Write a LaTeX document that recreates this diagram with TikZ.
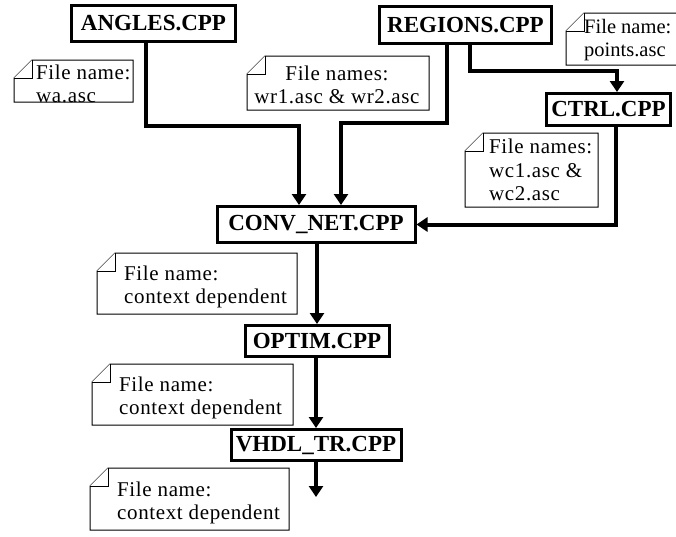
\documentclass[tikz,border=0pt]{standalone}
\usepackage{fontspec}
\setmainfont{Liberation Serif}
\newfontfamily\notefont[LetterSpace=3]{Liberation Serif}
\usetikzlibrary{arrows.meta}

% folded-corner note outline: \noteshape{x0}{y0}{x1}{y1}
\newcommand\noteshape[4]{%
  \draw[noteline] (#1,#2+18) -- (#1+18,#2) -- (#3,#2) -- (#3,#4) -- (#1,#4) -- cycle;
  \draw[noteline] (#1,#2+18) -- (#1+18,#2+18) -- (#1+18,#2);
}

\begin{document}
\begin{tikzpicture}[x=1pt,y=-1pt,
  module/.style={draw, line width=3pt, inner sep=0pt, fill=white,
    font=\fontsize{23}{26}\selectfont\bfseries},
  conn/.style={line width=4pt, -{Triangle[length=11pt,width=14pt]}},
  noteline/.style={line width=1pt, fill=white},
  notetext/.style={inner sep=0pt, align=left, font=\notefont\fontsize{21}{23.5}\selectfont},
  tightnote/.style={notetext, font=\rmfamily\fontsize{20.5}{22.5}\selectfont},
]
\useasboundingbox (0,0) rectangle (676,536);

% program modules
\node[module, minimum width=164pt, minimum height=36pt] (ang)   at (153.5,23.5) {ANGLES.CPP};
\node[module, minimum width=172pt, minimum height=37pt] (reg)   at (465.5,25)   {REGIONS.CPP};
\node[module, minimum width=124pt, minimum height=32pt] (ctrl)  at (608.5,109.5) {CTRL.CPP};
\node[module, minimum width=198pt, minimum height=36pt] (conv)  at (316,224.5)  {CONV\_NET.CPP};
\node[module, minimum width=144pt, minimum height=31pt] (optim) at (317,341)    {OPTIM.CPP};
\node[module, minimum width=170pt, minimum height=31pt] (vhdl)  at (316,445)    {VHDL\_TR.CPP};

% bend points of the connectors
\coordinate (ka) at (146,126);
\coordinate (kb) at (299,126);
\coordinate (kc) at (447,123);
\coordinate (kd) at (341,123);
\coordinate (ke) at (470,71);
\coordinate (kf) at (617,71);
\coordinate (kg) at (616,224.5);
\coordinate (kend) at (316,497);

% connectors
\draw[conn] (ang.south -| ka) -- (ka) -- (kb) -- (kb |- conv.north);
\draw[conn] (reg.south -| kc) -- (kc) -- (kd) -- (kd |- conv.north);
\draw[conn] (reg.south -| ke) -- (ke) -- (kf) -- (kf |- ctrl.north);
\draw[conn] (ctrl.south -| kg) -- (kg) -- (conv.east);
\draw[conn] (conv.south -| optim.north) -- (optim.north);
\draw[conn] (optim.south -| vhdl.north) -- (vhdl.north);
\draw[conn] (vhdl.south) -- (kend);

% file notes
\noteshape{14}{60}{133}{102}
\node[notetext, anchor=west] (nwa) at (36,84) {File name:\\wa.asc};

\noteshape{247}{56}{429}{110}
\node[notetext, align=center] (nwr) at (337,85) {File names:\\wr1.asc \& wr2.asc};

\noteshape{566}{13}{690}{65}
\node[tightnote, anchor=west] (npt) at (584,40) {File name:\\points.asc};

\noteshape{465}{133}{598}{207}
\node[notetext, anchor=west] (nwc) at (489,170) {File names:\\wc1.asc \&\\wc2.asc};

\noteshape{97}{253}{297}{314}
\node[notetext, anchor=west] (nc1) at (124,287) {File name:\\context dependent};

\noteshape{92}{364}{293}{425}
\node[notetext, anchor=west] (nc2) at (119,398) {File name:\\context dependent};

\noteshape{90}{468}{289}{530}
\node[notetext, anchor=west] (nc3) at (117,503) {File name:\\context dependent};
\end{tikzpicture}
\end{document}
